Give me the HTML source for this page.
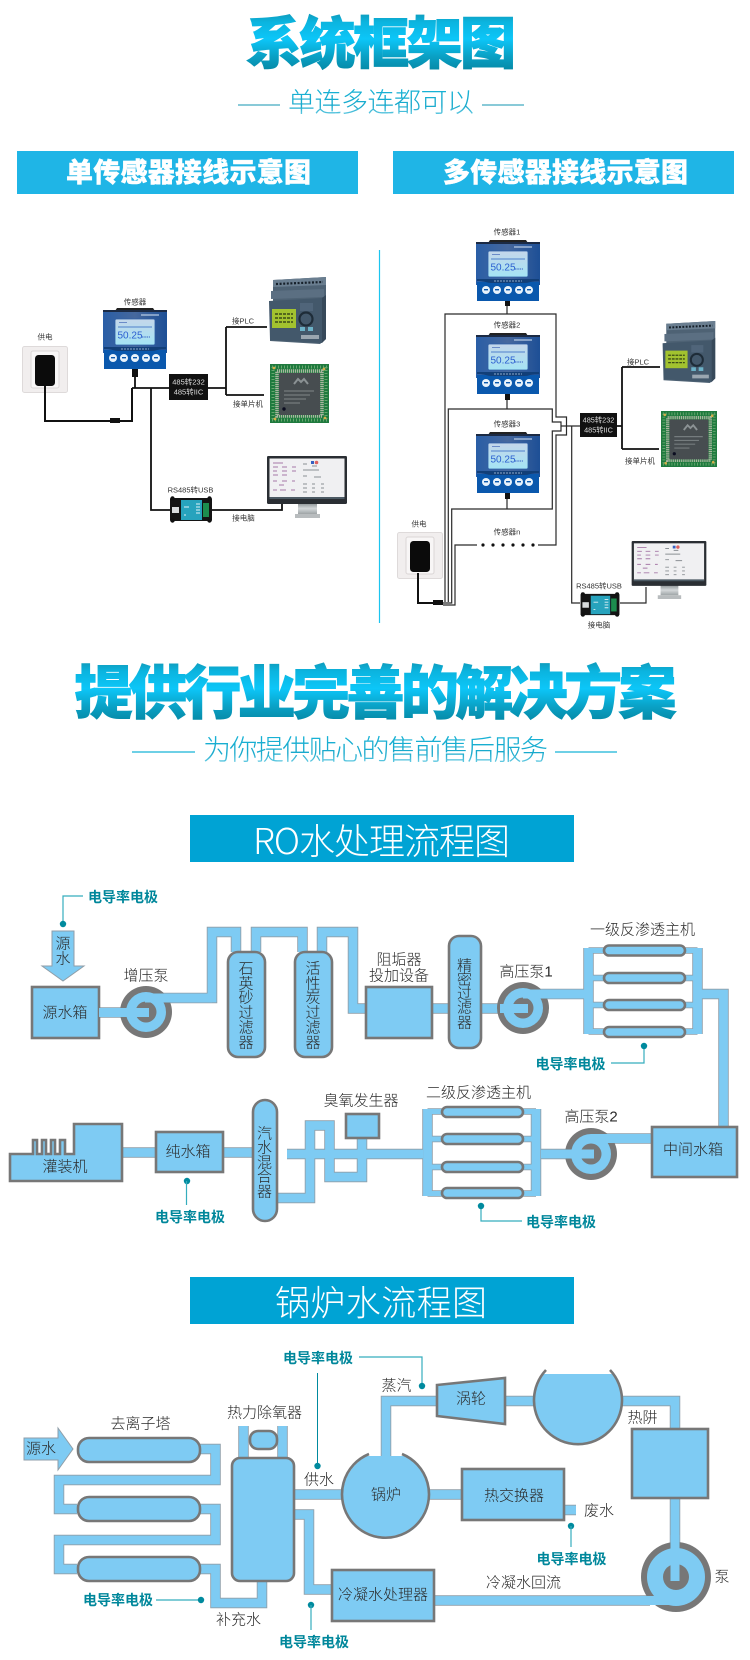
<!DOCTYPE html>
<html lang="zh"><head><meta charset="utf-8"><title>系统框架图</title>
<style>
html,body{margin:0;padding:0;background:#fff;width:750px;height:1660px;overflow:hidden}
svg{display:block}
text{font-family:"Liberation Sans","Noto Sans CJK SC",sans-serif;text-anchor:middle;dominant-baseline:central}
.t{font-size:15px;fill:#2a2a2a;font-weight:300}
.s{font-size:7.5px;fill:#333}
.e{font-size:14px;font-weight:700;fill:#00879b}
.h{font-weight:900}
.lite{font-family:"Noto Sans CJK SC",sans-serif;font-weight:300;fill:#fff}
.edge{fill:none;stroke:#8f9ea8;stroke-width:10.5}
.core{fill:none;stroke:#7ecbf3;stroke-width:8.8}
.edge2{fill:none;stroke:#8f9ea8;stroke-width:6.5}
.core2{fill:none;stroke:#7ecbf3;stroke-width:5}
.box{fill:#7ecbf3;stroke:#777;stroke-width:2.6}
.w{fill:none;stroke:#2a2a2a;stroke-width:1.2}
.wb{fill:none;stroke:#111;stroke-width:1.8}
.lead{fill:none;stroke:#35adbd;stroke-width:1.2}
.dot{fill:#008a9e}
</style></head><body>
<svg xmlns="http://www.w3.org/2000/svg" width="750" height="1660" viewBox="0 0 750 1660">
<defs>
<linearGradient id="tg" x1="0" y1="0" x2="0" y2="1">
<stop offset="0" stop-color="#1099b8"/><stop offset=".15" stop-color="#0bb4df"/><stop offset=".42" stop-color="#0cc6f8"/><stop offset=".7" stop-color="#0aa0c4"/><stop offset="1" stop-color="#04819b"/>
</linearGradient>
<linearGradient id="sg" x1="0" y1="0" x2="0" y2="1">
<stop offset="0" stop-color="#18b3d6"/><stop offset=".6" stop-color="#18a9cc"/><stop offset="1" stop-color="#7fd6ea"/>
</linearGradient>
<linearGradient id="pg" x1="0" y1="0" x2="1" y2="0">
<stop offset="0" stop-color="#2a5ea6"/><stop offset=".5" stop-color="#46689e"/><stop offset="1" stop-color="#1d4f96"/>
</linearGradient>
<linearGradient id="lcd" x1="0" y1="0" x2="0" y2="1">
<stop offset="0" stop-color="#c4d6ea"/><stop offset="1" stop-color="#a4e4f4"/>
</linearGradient>
<linearGradient id="st" x1="0" y1="0" x2="0" y2="1">
<stop offset="0" stop-color="#8a9092"/><stop offset=".5" stop-color="#d4d8da"/><stop offset="1" stop-color="#9ea4a6"/>
</linearGradient>
<symbol id="sensor" viewBox="0 0 64 61" width="64" height="61">
<path d="M12 3 L14 0 H50 L52 3 Z" fill="#222"/>
<rect x="0" y="2" width="64" height="43" fill="url(#pg)"/>
<path d="M0 2 H64 V4 H0Z" fill="#1b2a44"/>
<rect x="1" y="42" width="62" height="19" fill="#0a58ad"/>
<path d="M1 41 C10 41 10 43 16 43 H48 C54 43 54 41 63 41 V39 H1Z" fill="#123f78"/>
<rect x="12" y="11" width="40" height="26" rx="1.5" fill="url(#lcd)" stroke="#2c5ea5" stroke-width=".8"/>
<path d="M15 19 H49" stroke="#2b62c0" stroke-width=".7"/>
<text x="27" y="28" font-size="10" fill="#2b5fd0">50.25</text>
<path d="M39 29 H47" stroke="#4f7bd0" stroke-width="1.2" stroke-dasharray="1.5 .8"/>
<path d="M16 14.500 H24" stroke="#6a8bc8" stroke-width="1"/>
<path d="M18 41 H46" stroke="#b9cce4" stroke-width=".8" stroke-dasharray="2 1"/>
<circle cx="10" cy="50" r="4" fill="#e8f2fb"/><circle cx="21" cy="50" r="4" fill="#e8f2fb"/><circle cx="32" cy="50" r="4" fill="#e8f2fb"/><circle cx="43" cy="50" r="4" fill="#e8f2fb"/><circle cx="53" cy="50" r="4" fill="#e8f2fb"/>
<rect x="8" y="49" width="4" height="1.4" fill="#0a58ad"/><rect x="19" y="49" width="4" height="1.4" fill="#0a58ad"/><rect x="30" y="49" width="4" height="1.4" fill="#0a58ad"/><rect x="41" y="49" width="4" height="1.4" fill="#0a58ad"/><rect x="51" y="49" width="4" height="1.4" fill="#0a58ad"/>
<path d="M38 7 H56" stroke="#b9cce4" stroke-width="1.3"/>
</symbol>
<symbol id="plc" viewBox="0 0 58 67" width="58" height="67">
<path d="M5 3 L58 0 V62 L52 67 L2 64 V24 H5Z" fill="#4e6274"/>
<path d="M5 3 L58 0 V8 L5 10Z" fill="#6a7e90"/>
<path d="M8 7 L55 5" stroke="#16202a" stroke-width="2.2" stroke-dasharray="2 1.6"/>
<path d="M3 14 L56 12 V20 L3 22Z" fill="#5b6f82"/>
<path d="M1 24 L54 21 V66 L2 63Z" fill="#43586b"/>
<path d="M54 21 L58 18 V62 L54 66Z" fill="#37495a"/>
<rect x="4" y="32" width="24" height="19" fill="#a2c22f"/>
<path d="M7 37 H25 M7 41 H25 M7 45 H25" stroke="#3a4b16" stroke-width="1.4" stroke-dasharray="3 1"/>
<circle cx="38" cy="42" r="6.500" fill="none" stroke="#1e2c38" stroke-width="2.2"/>
<rect x="32" y="26" width="13" height="8" fill="#50657a"/>
<rect x="32" y="50" width="5" height="4" fill="#6cb2c8"/><rect x="40" y="50" width="5" height="4" fill="#6cb2c8"/>
<rect x="33" y="58" width="18" height="4" fill="#9aa6b0"/>
</symbol>
<symbol id="chip" viewBox="0 0 59 59" width="59" height="59">
<rect width="59" height="59" fill="#1f7a3e"/>
<path d="M2 3 H57 M2 56 H57 M3 3 V56 M56 3 V56" stroke="#66a76f" stroke-width="3" stroke-dasharray="1 2"/>
<rect x="7" y="7" width="45" height="45" fill="none" stroke="#aab5a0" stroke-width="3.500" stroke-dasharray="1.2 .8"/>
<rect x="9" y="9" width="41" height="42" rx="1" fill="#474d50"/>
<path d="M24 20 l4 -5 3 3 3 -3 4 5" fill="none" stroke="#8b9294" stroke-width="2"/>
<path d="M14 27 H44 M14 31 H40 M14 35 H36 M14 39 H30" stroke="#757c7e" stroke-width="1.2"/>
<circle cx="14" cy="45" r="1.700" fill="#0b0d20"/>
<circle cx="4" cy="4" r="1.400" fill="#d4b04a"/><circle cx="54" cy="5" r="1.400" fill="#d4b04a"/><circle cx="55" cy="54" r="1.400" fill="#d4b04a"/><circle cx="5" cy="55" r="1.400" fill="#d4b04a"/>
</symbol>
<symbol id="mon" viewBox="0 0 80 62" width="80" height="62">
<rect x="31" y="47" width="19" height="11" fill="url(#st)"/>
<rect x="28" y="58" width="25" height="4" fill="#b8bcbe"/>
<rect x="0" y="0" width="80" height="48" rx="1.200" fill="#2a2e33"/>
<rect x="2.500" y="2.500" width="75" height="40" fill="#f0f0f2"/>
<rect x="2.500" y="41" width="75" height="2" fill="#4c5a64"/>
<path d="M6 7 H16 M6 11 H11 M15 11 H20 M25 11 H29 M6 15 H10 M15 15 H20 M25 15 H29 M6 19 H11 M15 19 H20 M6 25 H10 M15 25 H20 M25 25 H28 M12 29 H17 M6 34 H10 M13 34 H19 M24 34 H28" stroke="#a679a8" stroke-width="1"/>
<path d="M36 8 H40 M45 10 H50 M36 14 H52 M36 20 H40 M47 21 H54 M36 28 H40 M45 28 H48 M54 28 H57 M36 32 H40 M45 32 H48 M54 32 H57 M36 36 H40 M45 36 H48 M54 36 H57" stroke="#8a8f94" stroke-width="1"/>
<rect x="44" y="5" width="3" height="3" fill="#3560c0"/><circle cx="49.500" cy="6.500" r="1.800" fill="#dd6060"/>
</symbol>
<symbol id="usb" viewBox="0 0 42 27" width="42" height="27">
<rect x="0" y="2" width="42" height="23" rx="1" fill="#141414"/>
<circle cx="2.500" cy="2.500" r="2.200" fill="#111"/><circle cx="39.500" cy="2.500" r="2.200" fill="#111"/><circle cx="2.500" cy="24.500" r="2.200" fill="#111"/><circle cx="39.500" cy="24.500" r="2.200" fill="#111"/>
<rect x="11" y="4" width="21" height="20" fill="#27a3bd"/>
<rect x="2" y="11" width="7" height="6" fill="#d9dcdd"/>
<rect x="33" y="7" width="6" height="14" fill="#1c8d4e"/>
<path d="M14 11 H19 M26 8 H30 M26 11 H30 M26 14 H30 M26 17 H30 M14 19 H16" stroke="#dff2f6" stroke-width="1"/>
</symbol>
<symbol id="sock" viewBox="0 0 46 47" width="46" height="47">
<rect x=".5" y=".5" width="45" height="46" rx="2" fill="#f1eeee" stroke="#dedada"/>
<rect x="9" y="5" width="28" height="37" rx="2" fill="#f8f6f6" stroke="#dad6d6"/>
<rect x="13" y="9" width="20" height="31" rx="3.500" fill="#0b0b0b"/>
</symbol>
<path id="ro" d="M99 1012.5 H149 M163 998 H212 V932 H236 V952 M256 952 V932 H302.5 V952 M322 952 V932 H353 V1008.5 H366 M432 1008.5 H528 M538 994 H588.5 M588.5 948 V1034 M697.5 948 V1034 M697.5 994 H723.5 V1127 M651 1138.5 H600 M541 1154 H594 M427.5 1109 V1196 M536 1109 V1196 M287 1154 H423 M277 1198 H310 V1125.5 H329.5 V1177 H362 V1138 M223 1152.5 H252 M123 1152.5 H156"/>
<path id="ro2" d="M588.5 950.500 H604 M588.5 978 H604 M588.5 1005 H604 M588.5 1031.500 H604 M685 950.500 H697.5 M685 978 H697.5 M685 1005 H697.5 M685 1031.500 H697.5 M427.5 1111.500 H442 M427.5 1139 H442 M427.5 1167 H442 M427.5 1193.500 H442 M523 1111.500 H536 M523 1139 H536 M523 1167 H536 M523 1193.500 H536"/>
<path id="bo" d="M200 1449 H215.5 V1480 H59 V1509 H77 M200 1509 H215.5 V1540 H59 V1569 H77 M200 1569 H215.5 V1603 H262 V1580 M243.5 1426 V1458 M282.5 1426 V1458 M294 1494.5 H344 M294 1514.5 H309 V1589.5 H332 M386 1456 V1401 H436 M505 1401 H535 M622 1401 H675 V1429 M675 1498 V1581 M430 1494.5 H461 M564 1510 H576 M434 1600.5 H650"/>
</defs>

<!-- Header -->
<text x="381" y="44" font-size="56" class="h" fill="url(#tg)" stroke="url(#tg)" stroke-width="1" textLength="270" lengthAdjust="spacing">系统框架图</text>
<text x="381" y="103" font-size="27" font-weight="300" fill="url(#sg)" textLength="186" lengthAdjust="spacing">单连多连都可以</text>
<path d="M238 105 H280 M482 105 H524" stroke="#62b8cc" stroke-width="1.5"/>
<rect x="17" y="151" width="341" height="43" fill="#1fb5e6"/>
<rect x="393" y="151" width="341" height="43" fill="#1fb5e6"/>
<text x="188.500" y="173" font-size="27" class="h" fill="#fff" stroke="#fff" stroke-width=".4" textLength="245" lengthAdjust="spacing">单传感器接线示意图</text>
<text x="565.500" y="173" font-size="27" class="h" fill="#fff" stroke="#fff" stroke-width=".4" textLength="245" lengthAdjust="spacing">多传感器接线示意图</text>

<!-- Single sensor -->
<use href="#sock" x="22" y="346"/>
<text x="45" y="337" class="s">供电</text>
<path d="M45 386 V421 H132 V388" fill="none" stroke="#111" stroke-width="2"/>
<rect x="110" y="418" width="10" height="5" fill="#111"/>
<use href="#sensor" x="103" y="308"/>
<text x="135" y="302" class="s">传感器</text>
<rect x="132" y="369" width="6" height="8" fill="#111"/>
<path d="M135 377 V388 M132 388 H169 M208 388 H226 M226 327 V395 M226 327 H267 M226 395 H264 M151 388 V510 H170 M212 510 H282 V504" class="wb"/>
<rect x="169" y="374" width="39" height="26" fill="#111"/>
<text x="188.500" y="382" font-size="7.500" fill="#ddd">485转232</text>
<text x="188.500" y="392" font-size="7.500" fill="#ddd">485转IIC</text>
<text x="243" y="321" class="s">接PLC</text>
<text x="248" y="404" class="s">接单片机</text>
<use href="#plc" x="268" y="277"/>
<use href="#chip" x="270" y="364"/>
<use href="#usb" x="170" y="496"/>
<text x="190.500" y="490" class="s">RS485转USB</text>
<use href="#mon" x="267" y="456"/>
<text x="243.500" y="518" class="s">接电脑</text>

<!-- Divider -->
<path d="M379.500 250 V623" stroke="#1bc5f0" stroke-width="1.2"/>

<!-- Multi sensor -->
<use href="#sock" x="397" y="532"/>
<text x="419" y="524" class="s">供电</text>
<path d="M418 573 V603 H434" fill="none" stroke="#111" stroke-width="2"/>
<rect x="433" y="600" width="10" height="5" fill="#111"/>
<path class="w" d="M445 602 V314 H556 V417 H566.500 V435 H556 V545 H538"/>
<path class="w" d="M448.300 602 V409 H552.300 V422 H561 V431 H552.300 V509 H451.700 V603 H443"/>
<path class="w" d="M477 545 H455 V605 H443"/>
<path class="w" d="M507 301 V314 M507 394 V409 M507 493 V509 M561 426 H580 M571.700 426 V603 H580 M620 603 H646 V587"/>
<use href="#sensor" x="476" y="240"/>
<use href="#sensor" x="476" y="333"/>
<use href="#sensor" x="476" y="432"/>
<rect x="505" y="301" width="5" height="5" fill="#111"/><rect x="505" y="394" width="5" height="6" fill="#111"/><rect x="505" y="493" width="5" height="6" fill="#111"/>
<text x="507" y="232" class="s">传感器1</text>
<text x="507" y="325" class="s">传感器2</text>
<text x="507" y="424" class="s">传感器3</text>
<text x="507" y="532" class="s">传感器n</text>
<g fill="#111"><circle cx="483" cy="545" r="1.600"/><circle cx="493" cy="545" r="1.600"/><circle cx="503" cy="545" r="1.600"/><circle cx="513" cy="545" r="1.600"/><circle cx="523" cy="545" r="1.600"/><circle cx="533" cy="545" r="1.600"/></g>
<rect x="580" y="413" width="37" height="24" fill="#111"/>
<text x="598.500" y="420" font-size="7.300" fill="#ddd">485转232</text>
<text x="598.500" y="430" font-size="7.300" fill="#ddd">485转IIC</text>
<path class="wb" d="M617 426 H622 M622 367 V449 M622 367 H660 M622 449 H659"/>
<text x="638" y="362" class="s">接PLC</text>
<text x="640" y="461" class="s">接单片机</text>
<svg x="661" y="321" width="55" height="62" viewBox="0 0 58 67"><use href="#plc"/></svg>
<svg x="661" y="411" width="56" height="56" viewBox="0 0 59 59"><use href="#chip"/></svg>
<svg x="580" y="592" width="40" height="25" viewBox="0 0 42 27"><use href="#usb"/></svg>
<text x="599" y="586" class="s">RS485转USB</text>
<text x="599" y="625" class="s">接电脑</text>
<svg x="631" y="541" width="76" height="58" viewBox="0 0 80 62"><use href="#mon"/></svg>

<!-- Middle heading -->
<text x="375.500" y="694" font-size="58" class="h" fill="url(#tg)" stroke="url(#tg)" stroke-width="1" textLength="602" lengthAdjust="spacing">提供行业完善的解决方案</text>
<text x="375.500" y="750" font-size="28" font-weight="300" fill="url(#sg)" textLength="345" lengthAdjust="spacing">为你提供贴心的售前售后服务</text>
<path d="M132 752 H195 M555 752 H617" stroke="#18b4d8" stroke-width="1.3"/>
<rect x="190" y="815" width="384" height="47" fill="#00a3d4"/>
<text x="381.500" y="839" font-size="36" class="lite" textLength="257" lengthAdjust="spacing">RO水处理流程图</text>

<!-- RO flow -->
<use href="#ro" class="edge"/>
<use href="#ro2" class="edge2"/>
<use href="#ro" class="core"/>
<use href="#ro2" class="core2"/>
<path class="lead" d="M83 896 H63 V924"/><circle class="dot" cx="63" cy="924" r="3.200"/>
<text x="123" y="897" class="e">电导率电极</text>
<path d="M52 931 H74 V966 H84 L63 981 L42 966 H52Z" fill="#7ecbf3" stroke="#8f9ea8"/>
<text x="63" y="944" class="t">源</text><text x="63" y="959" class="t">水</text>
<rect class="box" x="32" y="987" width="67" height="51"/>
<text x="65" y="1013" class="t">源水箱</text>

<circle cx="146" cy="1012" r="26" fill="#777"/><circle cx="146" cy="1012" r="20" fill="#7ecbf3"/><circle cx="146" cy="1012" r="10.500" fill="#777"/>
<path d="M99 1012.500 H149" stroke="#7ecbf3" stroke-width="9" fill="none"/>
<path d="M145 998 H212" stroke="#7ecbf3" stroke-width="9" fill="none"/>
<text x="146" y="976" class="t">增压泵</text>

<rect class="box" x="228" y="952" width="37" height="105" rx="10"/>
<g class="t"><text x="246" y="969">石</text><text x="246" y="984">英</text><text x="246" y="998">砂</text><text x="246" y="1013">过</text><text x="246" y="1028">滤</text><text x="246" y="1043">器</text></g>
<rect class="box" x="295" y="952" width="37" height="105" rx="10"/>
<g class="t"><text x="313" y="969">活</text><text x="313" y="984">性</text><text x="313" y="998">炭</text><text x="313" y="1013">过</text><text x="313" y="1028">滤</text><text x="313" y="1043">器</text></g>
<rect class="box" x="366" y="987" width="66" height="51"/>
<text x="399" y="960" class="t">阻垢器</text><text x="399" y="976" class="t">投加设备</text>
<rect class="box" x="449" y="936" width="32" height="112" rx="10"/>
<g class="t"><text x="464.500" y="966">精</text><text x="464.500" y="980">密</text><text x="464.500" y="994">过</text><text x="464.500" y="1008">滤</text><text x="464.500" y="1023">器</text></g>

<circle cx="523" cy="1008" r="26" fill="#777"/><circle cx="523" cy="1008" r="20" fill="#7ecbf3"/><circle cx="523" cy="1008" r="10.500" fill="#777"/>
<path d="M500 1008.500 H528" stroke="#7ecbf3" stroke-width="9" fill="none"/>
<path d="M523 994 H588" stroke="#7ecbf3" stroke-width="9" fill="none"/>
<text x="526" y="972" class="t">高压泵1</text>

<g class="box"><rect x="604" y="945.500" width="81" height="10" rx="5"/><rect x="604" y="973" width="81" height="10" rx="5"/><rect x="604" y="1000" width="81" height="10" rx="5"/><rect x="604" y="1027" width="81" height="10" rx="5"/></g>
<text x="642.500" y="930" class="t">一级反渗透主机</text>
<text x="570.500" y="1064" class="e">电导率电极</text>
<path class="lead" d="M611 1063 H644 V1046"/><circle class="dot" cx="644" cy="1046" r="3.200"/>

<rect class="box" x="652" y="1127" width="85" height="50"/>
<text x="693" y="1150" class="t">中间水箱</text>
<circle cx="591" cy="1154" r="26" fill="#777"/><circle cx="591" cy="1154" r="20" fill="#7ecbf3"/><circle cx="591" cy="1154" r="10.500" fill="#777"/>
<path d="M565 1154 H594" stroke="#7ecbf3" stroke-width="9" fill="none"/>
<path d="M591 1138.500 H650" stroke="#7ecbf3" stroke-width="9" fill="none"/>
<text x="591" y="1117" class="t">高压泵2</text>

<g class="box"><rect x="442" y="1107" width="81" height="10" rx="5"/><rect x="442" y="1134" width="81" height="10" rx="5"/><rect x="442" y="1162" width="81" height="10" rx="5"/><rect x="442" y="1188" width="81" height="10" rx="5"/></g>
<text x="478.500" y="1093" class="t">二级反渗透主机</text>
<text x="561" y="1222" class="e">电导率电极</text>
<path class="lead" d="M522 1221 H481 V1206"/><circle class="dot" cx="481" cy="1206" r="3.200"/>

<rect class="box" x="346" y="1114" width="33" height="24"/>
<text x="361" y="1101" class="t">臭氧发生器</text>
<rect class="box" x="253" y="1100" width="24" height="121" rx="12"/>
<g class="t"><text x="264.500" y="1134">汽</text><text x="264.500" y="1148">水</text><text x="264.500" y="1163">混</text><text x="264.500" y="1177">合</text><text x="264.500" y="1192">器</text></g>
<rect class="box" x="156" y="1132" width="67" height="40"/>
<text x="188" y="1152" class="t">纯水箱</text>
<path class="box" d="M10 1154 H33 V1140 H37 V1154 H42 V1140 H46 V1154 H51 V1140 H55 V1154 H60 V1140 H65 V1154 H74 V1124 H122 V1181 H10Z"/>
<text x="65" y="1167" class="t">灌装机</text>
<circle class="dot" cx="187" cy="1181" r="3.200"/><path class="lead" d="M186.500 1181 V1205"/>
<text x="190" y="1217" class="e">电导率电极</text>

<!-- Boiler heading -->
<rect x="190" y="1277" width="384" height="47" fill="#00a3d4"/>
<text x="381" y="1301" font-size="35" class="lite" textLength="212" lengthAdjust="spacing">锅炉水流程图</text>

<!-- Boiler flow -->
<use href="#bo" class="edge"/>
<use href="#bo" class="core"/>
<text x="318" y="1358" class="e">电导率电极</text>
<path class="lead" d="M359 1357 H422 V1386"/><circle class="dot" cx="422" cy="1386" r="3.200"/>
<path d="M317.500 1373 V1466" stroke="#008a9e" stroke-width="1"/><circle class="dot" cx="317.500" cy="1466" r="3.200"/>
<text x="264.500" y="1413" class="t">热力除氧器</text>
<text x="140.500" y="1424" class="t">去离子塔</text>
<path d="M24 1438 H58 V1428 L73 1449 L58 1470 V1460 H24Z" fill="#7ecbf3" stroke="#8f9ea8"/>
<text x="41" y="1449" class="t">源水</text>
<g class="box"><rect x="78" y="1438" width="122" height="24" rx="11"/><rect x="78" y="1497" width="122" height="24" rx="11"/><rect x="78" y="1557" width="122" height="24" rx="11"/></g>
<rect class="box" x="250" y="1431" width="27" height="18" rx="8"/>
<rect class="box" x="232" y="1458" width="62" height="123" rx="8"/>
<text x="319" y="1480" class="t">供水</text>
<text x="238.500" y="1620" class="t">补充水</text>

<path d="M367.200 1456 H405.800 A43.500 43.500 0 1 1 367.200 1456Z" fill="#7ecbf3"/>
<path d="M369 1454 A43.500 43.500 0 1 0 402 1454" fill="none" stroke="#777" stroke-width="2.600"/>
<text x="386" y="1495" class="t">锅炉</text>
<text x="396.500" y="1386" class="t">蒸汽</text>
<path class="box" d="M437 1385 L505 1378 V1424 L437 1416Z"/>
<text x="471" y="1399" class="t">涡轮</text>
<path d="M543.300 1374 H612.700 A44 44 0 1 1 543.300 1374Z" fill="#7ecbf3"/>
<path d="M546 1370 A44 44 0 1 0 610 1370" fill="none" stroke="#777" stroke-width="2.600"/>
<text x="642.500" y="1418" class="t">热阱</text>
<rect class="box" x="632" y="1429" width="76" height="69"/>

<circle cx="676" cy="1577" r="35" fill="#777"/><circle cx="676" cy="1577" r="29" fill="#7ecbf3"/><circle cx="676" cy="1577" r="13" fill="#777"/>
<path d="M675 1535 V1581" stroke="#7ecbf3" stroke-width="9" fill="none"/>
<path d="M640 1600.500 H680" stroke="#7ecbf3" stroke-width="9" fill="none"/>
<text x="722" y="1577" class="t">泵</text>
<text x="523.500" y="1583" class="t">冷凝水回流</text>
<rect class="box" x="462" y="1469" width="102" height="51"/>
<text x="514" y="1496" class="t">热交换器</text>
<text x="599" y="1511" class="t">废水</text>
<circle class="dot" cx="571" cy="1526" r="3.200"/><path class="lead" d="M571 1526 V1547"/>
<text x="571.500" y="1559" class="e">电导率电极</text>
<rect class="box" x="332" y="1570" width="102" height="51"/>
<text x="383" y="1595" class="t">冷凝水处理器</text>
<circle class="dot" cx="311" cy="1605" r="3.200"/><path class="lead" d="M311 1605 V1630"/>
<text x="314" y="1642" class="e">电导率电极</text>
<text x="118" y="1600" class="e">电导率电极</text>
<path class="lead" d="M156 1600 H201"/><circle class="dot" cx="201" cy="1600" r="3.200"/>
</svg>
</body></html>
